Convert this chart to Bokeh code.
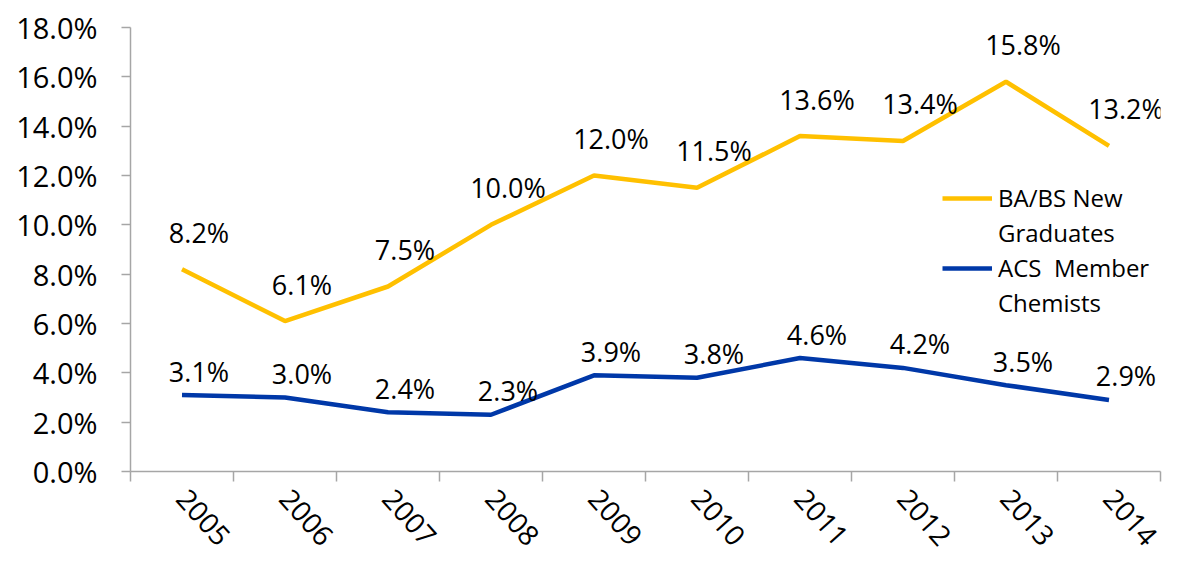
from bokeh.plotting import figure
from bokeh.models import FixedTicker, PrintfTickFormatter, Legend, LegendItem
from bokeh.core.properties import value
from bokeh.embed import file_html
from bokeh.resources import INLINE

years = ["2005", "2006", "2007", "2008", "2009", "2010", "2011", "2012", "2013", "2014"]
ba_bs = [8.2, 6.1, 7.5, 10.0, 12.0, 11.5, 13.6, 13.4, 15.8, 13.2]
acs = [3.1, 3.0, 2.4, 2.3, 3.9, 3.8, 4.6, 4.2, 3.5, 2.9]
y_ticks = [0, 2, 4, 6, 8, 10, 12, 14, 16, 18]

FONT = "Open Sans"
n = len(years)
xs = [i + 0.5 for i in range(n)]

p = figure(width=1166, height=557, x_range=(0, n), y_range=(0, 18),
           output_backend="svg", toolbar_location=None,
           min_border_left=130, min_border_right=6, min_border_top=27, min_border_bottom=84)
p.outline_line_color = None
p.grid.visible = False
p.background_fill_color = "white"

AX = "#A6A6A6"
# x axis
p.xaxis.ticker = FixedTicker(ticks=xs, minor_ticks=list(range(n + 1)))
p.xaxis.major_label_overrides = {x: y for x, y in zip(xs, years)}
p.xaxis.major_tick_out = 0
p.xaxis.major_tick_in = 0
p.xaxis.minor_tick_out = 10
p.xaxis.minor_tick_in = 0
p.xaxis.minor_tick_line_color = AX
p.xaxis.minor_tick_line_width = 1.5
p.xaxis.major_label_orientation = -0.84
p.xaxis.major_label_standoff = 12
p.xaxis.major_label_text_font = FONT
p.xaxis.major_label_text_font_size = "28px"
p.xaxis.major_label_text_color = "black"
p.xaxis.axis_line_color = AX
p.xaxis.axis_line_width = 1.5

# y axis
p.yaxis.ticker = FixedTicker(ticks=y_ticks, minor_ticks=[])
p.yaxis.formatter = PrintfTickFormatter(format="%.1f%%")
p.yaxis.major_tick_out = 9
p.yaxis.major_tick_in = 0
p.yaxis.minor_tick_out = 0
p.yaxis.minor_tick_in = 0
p.yaxis.major_tick_line_color = AX
p.yaxis.major_tick_line_width = 1.5
p.yaxis.major_label_standoff = 24
p.yaxis.major_label_text_font = FONT
p.yaxis.major_label_text_font_size = "29px"
p.yaxis.major_label_text_color = "black"
p.yaxis.axis_line_color = AX
p.yaxis.axis_line_width = 1.5

r_ba = p.line(xs, ba_bs, line_color="#FFC000", line_width=4.5)
r_acs = p.line(xs, acs, line_color="#0038A8", line_width=4.5)
dummy = p.line([], [], line_alpha=0)

p.text(xs, ba_bs, text=[f"{v:.1f}%" for v in ba_bs], x_offset=17, y_offset=-37,
       text_align="center", text_baseline="middle", text_font=value(FONT),
       text_font_size="27px", text_color="black")
p.text(xs, acs, text=[f"{v:.1f}%" for v in acs], x_offset=17, y_offset=-24,
       text_align="center", text_baseline="middle", text_font=value(FONT),
       text_font_size="27px", text_color="black")

legend = Legend(items=[
    LegendItem(label="BA/BS New", renderers=[r_ba]),
    LegendItem(label="Graduates", renderers=[dummy]),
    LegendItem(label="ACS  Member", renderers=[r_acs]),
    LegendItem(label="Chemists", renderers=[dummy]),
], location=(812, 152), border_line_color=None, background_fill_alpha=0,
    glyph_width=50, glyph_height=30, label_height=30, spacing=2, padding=0, margin=0,
    label_standoff=6, label_text_font=FONT, label_text_font_size="24px",
    label_text_color="black")
p.add_layout(legend)

open("out.html", "w").write(file_html(p, INLINE))
